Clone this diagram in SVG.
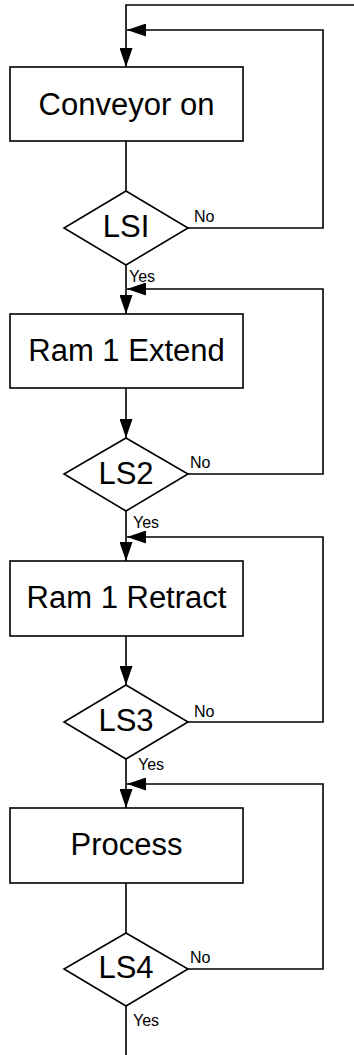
<svg xmlns="http://www.w3.org/2000/svg" width="354" height="1055" viewBox="0 0 354 1055">
<style>
.box{fill:#fff;stroke:#000;stroke-width:1.6}
.ln{fill:none;stroke:#000;stroke-width:1.6}
.big{font-family:"Liberation Sans",Arial,sans-serif;font-size:31px;fill:#000;text-anchor:middle}
.sm{font-family:"Liberation Sans",Arial,sans-serif;font-size:16px;fill:#000}
</style>
<defs>
<marker id="ah" viewBox="0 0 19 13" refX="19" refY="6.5" markerWidth="19" markerHeight="13" markerUnits="userSpaceOnUse" orient="auto">
<path d="M0,0 L19,6.5 L0,13 z" fill="#000"/>
</marker>
</defs>
<rect width="354" height="1055" fill="#fff"/>
<g id="connectors">
<path class="ln" d="M354,5 H126 V67" marker-end="url(#ah)"/>
<path class="ln" d="M126,141 V191"/>
<path class="ln" d="M188,228 H323 V30 H127" marker-end="url(#ah)"/>
<path class="ln" d="M126,265 V314" marker-end="url(#ah)"/>
<path class="ln" d="M126,388 V438" marker-end="url(#ah)"/>
<path class="ln" d="M188,474 H323 V289 H127" marker-end="url(#ah)"/>
<path class="ln" d="M126,511 V561" marker-end="url(#ah)"/>
<path class="ln" d="M126,636 V685" marker-end="url(#ah)"/>
<path class="ln" d="M188,722 H323 V537 H127" marker-end="url(#ah)"/>
<path class="ln" d="M126,759 V808" marker-end="url(#ah)"/>
<path class="ln" d="M126,883 V933"/>
<path class="ln" d="M188,969 H323 V784 H127" marker-end="url(#ah)"/>
<path class="ln" d="M126,1006 V1055"/>
<text class="sm" x="194" y="222">No</text>
<text class="sm" x="129" y="282">Yes</text>
<text class="sm" x="190" y="468">No</text>
<text class="sm" x="133" y="528">Yes</text>
<text class="sm" x="194" y="717">No</text>
<text class="sm" x="138" y="770">Yes</text>
<text class="sm" x="190" y="963">No</text>
<text class="sm" x="133" y="1026">Yes</text>
</g>
<g id="conveyor_on">
<rect class="box" x="10" y="67" width="233" height="74"/>
<text class="big" x="126.5" y="115">Conveyor on</text>
</g>
<g id="lsi">
<path class="box" d="M126,191 L188,228 L126,265 L64,228 z"/>
<text class="big" x="126" y="237">LSI</text>
</g>
<g id="ram1_extend">
<rect class="box" x="10" y="314" width="233" height="74"/>
<text class="big" x="126.5" y="361">Ram 1 Extend</text>
</g>
<g id="ls2">
<path class="box" d="M126,438 L188,474 L126,511 L64,474 z"/>
<text class="big" x="126" y="484">LS2</text>
</g>
<g id="ram1_retract">
<rect class="box" x="10" y="561" width="233" height="75"/>
<text class="big" x="126.5" y="608">Ram 1 Retract</text>
</g>
<g id="ls3">
<path class="box" d="M126,685 L188,722 L126,759 L64,722 z"/>
<text class="big" x="126" y="731">LS3</text>
</g>
<g id="process">
<rect class="box" x="10" y="808" width="233" height="75"/>
<text class="big" x="126.5" y="855">Process</text>
</g>
<g id="ls4">
<path class="box" d="M126,933 L188,969 L126,1006 L64,969 z"/>
<text class="big" x="126" y="978">LS4</text>
</g>
</svg>
